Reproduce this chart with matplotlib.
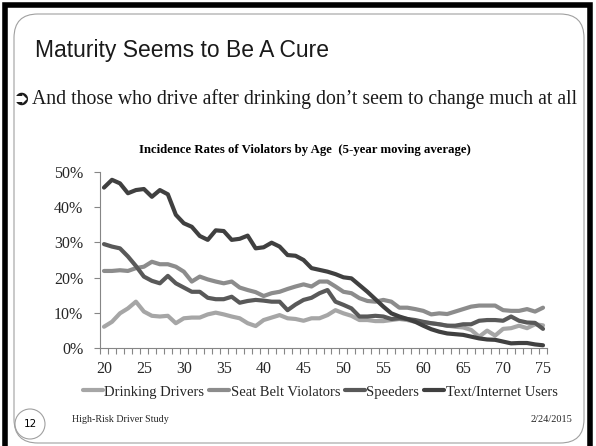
import matplotlib
matplotlib.use('Agg')
import matplotlib.pyplot as plt
from matplotlib.patches import Rectangle, FancyBboxPatch, Ellipse

# Data: 5-year moving average incidence rates (%) by age
ages = list(range(20, 76))

drinking = [6.1, 7.5, 9.9, 11.3, 13.2, 10.4, 9.2, 9.0, 9.2, 7.1,
            8.5, 8.7, 8.7, 9.6, 10.1, 9.6, 9.0, 8.5, 7.1, 6.3,
            8.0, 8.7, 9.4, 8.5, 8.3, 7.8, 8.5, 8.5, 9.4, 10.8,
            9.9, 9.2, 8.0, 8.0, 7.7, 7.7, 8.0, 8.3, 8.0, 7.5,
            7.3, 7.1, 6.8, 6.4, 6.1, 5.9, 5.2, 3.3, 5.0, 3.6,
            5.5, 5.7, 6.4, 5.7, 6.8, 6.5]

seat_belt = [21.9, 21.9, 22.1, 21.9, 22.7, 23.1, 24.5, 23.8, 23.8, 23.1,
             21.7, 18.9, 20.3, 19.5, 18.9, 18.4, 18.9, 17.2, 16.5, 15.9,
             14.8, 15.6, 16.0, 16.8, 17.5, 18.1, 17.5, 18.9, 18.9, 17.5,
             16.0, 15.6, 14.2, 13.4, 13.2, 13.7, 13.2, 11.5, 11.5, 11.1,
             10.6, 9.6, 9.9, 9.7, 10.4, 11.1, 11.8, 12.1, 12.1, 12.1,
             10.8, 10.6, 10.6, 11.1, 10.4, 11.5]

speeders = [29.5, 28.8, 28.3, 26.0, 23.3, 20.3, 19.1, 18.4, 20.5, 18.4,
            17.2, 16.0, 16.0, 14.3, 13.9, 13.9, 14.6, 12.9, 13.4, 13.7,
            13.5, 13.2, 13.2, 10.8, 12.4, 13.7, 14.3, 15.6, 16.5, 13.2,
            12.3, 11.3, 9.0, 9.0, 9.2, 9.0, 8.3, 8.5, 8.3, 8.0,
            7.5, 7.1, 6.8, 6.4, 6.4, 6.8, 6.8, 7.8, 8.0, 8.0,
            7.8, 9.0, 7.8, 7.3, 7.2, 5.5]

texting = [45.5, 47.7, 46.7, 43.9, 44.8, 45.1, 42.9, 44.8, 43.6, 37.8,
           35.4, 34.4, 31.8, 30.7, 33.4, 33.2, 30.7, 31.0, 31.9, 28.3,
           28.6, 29.9, 28.8, 26.4, 26.2, 25.0, 22.7, 22.2, 21.7, 21.0,
           20.1, 19.8, 17.9, 16.0, 13.9, 11.8, 9.9, 9.0, 8.3, 7.5,
           6.4, 5.4, 4.7, 4.2, 4.0, 3.8, 3.3, 2.8, 2.5, 2.4,
           1.9, 1.4, 1.5, 1.5, 1.1, 0.85]

series_names = ['Drinking Drivers', 'Seat Belt Violators', 'Speeders', 'Text/Internet Users']
series_colors = ['#a6a6a6', '#8c8c8c', '#595959', '#404040']

y_ticks = [0, 10, 20, 30, 40, 50]
x_labels = [20, 25, 30, 35, 40, 45, 50, 55, 60, 65, 70, 75]

W, H = 596, 446
SERIF = ['Liberation Serif', 'DejaVu Serif']


def fx(px):
    return px / W


def fy(py):
    return 1 - py / H


fig = plt.figure(figsize=(W / 100, H / 100), dpi=100)
fig.patch.set_facecolor('white')

# slide frame
fig.patches.append(Rectangle((fx(4.5), fy(452)), fx(590) - fx(4.5), fy(5) - fy(452),
                             transform=fig.transFigure, fill=False,
                             edgecolor='black', linewidth=4))
fig.patches.append(FancyBboxPatch((fx(14), fy(443)), fx(584) - fx(14), fy(14) - fy(443),
                                  boxstyle='round,pad=0,rounding_size=0.04',
                                  transform=fig.transFigure, fill=False,
                                  edgecolor='#a0a0a0', linewidth=0.8,
                                  mutation_aspect=W / H))

# slide texts
fig.text(fx(35), fy(51), 'Maturity Seems to Be A Cure', fontsize=16.5,
         family=['Liberation Sans', 'DejaVu Sans'],
         va='center', ha='left', color='#1a1a1a')
fig.text(fx(13), fy(99), '\u27b2', fontsize=15, fontweight='bold', family=['DejaVu Sans'],
         va='center', ha='left', color='#1a1a1a')
fig.text(fx(32), fy(99), 'And those who drive after drinking don\u2019t seem to change much at all',
         fontsize=14.2, family=SERIF, va='center', ha='left', color='#1a1a1a')

# chart
ax = fig.add_axes([fx(100), fy(348.3), fx(547) - fx(100), fy(171.7) - fy(348.3)])
x = list(range(len(ages)))
for vals, name, col in zip([drinking, seat_belt, speeders, texting], series_names, series_colors):
    ax.plot(x, vals, color=col, linewidth=3, label=name, solid_joinstyle='round',
            solid_capstyle='round')

ax.set_xlim(-0.5, len(ages) - 0.5)
ax.set_ylim(0, 50)
ax.set_yticks(y_ticks)
ax.set_yticklabels([f'{v}%' for v in y_ticks])
ax.set_xticks([ages.index(a) for a in x_labels])
ax.set_xticklabels([str(a) for a in x_labels])
ax.set_xticks([i - 0.5 for i in range(len(ages) + 1)], minor=True)
ax.tick_params(axis='x', which='major', length=0, pad=9)
ax.tick_params(axis='x', which='minor', length=4, color='#868686', width=0.8)
ax.tick_params(axis='y', length=4, color='#868686', width=0.8, pad=8)
for lab in ax.get_xticklabels() + ax.get_yticklabels():
    lab.set_family(SERIF)
    lab.set_fontsize(11.5)
    lab.set_color('#262626')
for side in ['top', 'right']:
    ax.spines[side].set_visible(False)
for side in ['left', 'bottom']:
    ax.spines[side].set_color('#868686')
    ax.spines[side].set_linewidth(0.8)

fig.text(fx(305), fy(150), 'Incidence Rates of Violators by Age  (5-year moving average)',
         fontsize=9.2, fontweight='bold', family=SERIF, ha='center', va='center')

fig.legend(*ax.get_legend_handles_labels(), loc='center', bbox_to_anchor=(fx(320), fy(392)),
           ncol=4, frameon=False, handlelength=1.4, handletextpad=0.1, columnspacing=0.3,
           prop={'family': SERIF, 'size': 10.5}, labelcolor='#262626')

# footer
fig.patches.append(Ellipse((fx(30), fy(424)), 30 / W, 30 / H, transform=fig.transFigure,
                           fill=False, edgecolor='#a0a0a0', linewidth=0.8))
fig.text(fx(30), fy(424), '12', fontsize=7.5, family=['DejaVu Sans'],
         ha='center', va='center')
fig.text(fx(72), fy(419), 'High-Risk Driver Study', fontsize=7.2, family=SERIF,
         ha='left', va='center', color='#262626')
fig.text(fx(572), fy(419), '2/24/2015', fontsize=7.5, family=SERIF,
         ha='right', va='center', color='#262626')

fig.savefig('out.png', dpi=100)
